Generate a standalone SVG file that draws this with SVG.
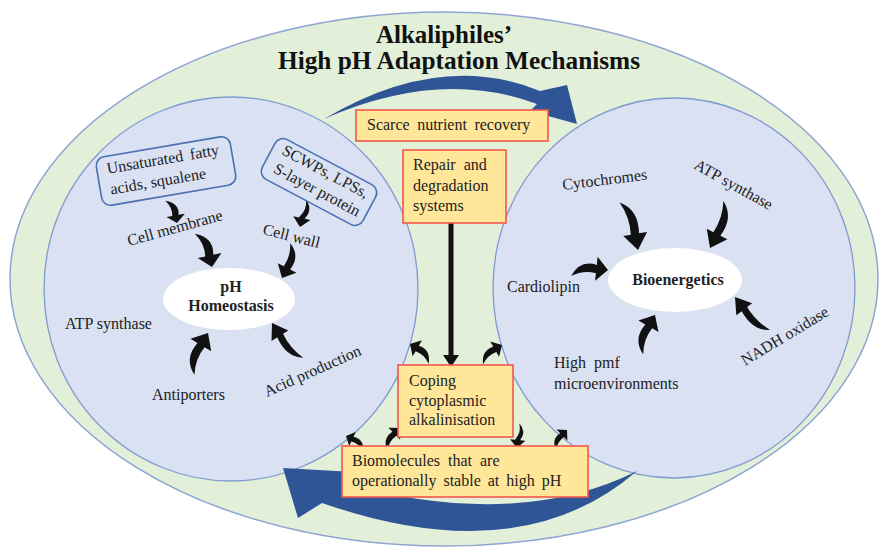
<svg xmlns="http://www.w3.org/2000/svg" xmlns:xlink="http://www.w3.org/1999/xlink" width="883" height="548" viewBox="0 0 883 548">
<style>
.t{font-family:"Liberation Serif","Times New Roman",serif;font-size:16px;fill:#222}
.b{font-weight:bold}
.ttl{font-family:"Liberation Serif","Times New Roman",serif;font-size:25px;font-weight:bold;fill:#111}
.circ{fill:#d9e1f2;stroke:#7f9bcf;stroke-width:1.3}
.outer{fill:#e2efd9;stroke:#8ea5d3;stroke-width:1.5}
.core{fill:#ffffff}
.box{fill:#ffe699;stroke:#f4564a;stroke-width:1.6}
.bbox{fill:none;stroke:#4a6fb5;stroke-width:1.6}
.arr{fill:#111}
.blue{fill:#2f5597}
</style>
<defs>
<path id="ca" d="M0,0 L-13,-11 L-13,-3.5 Q-32,-7 -40,9 Q-27,2 -13,4 L-13,11 Z"/>
<path id="cb" d="M0,0 L-13,-11 L-13,-3.5 Q-28,-12 -40,0 Q-27,-5 -13,4 L-13,11 Z"/>
</defs>
<rect width="883" height="548" fill="#ffffff"/>
<g id="outer"><ellipse class="outer" cx="444" cy="279" rx="434" ry="267"/></g>
<g id="title">
<text class="ttl" x="444" y="43" text-anchor="middle">Alkaliphiles’</text>
<text class="ttl" x="459" y="69" text-anchor="middle" textLength="362" lengthAdjust="spacingAndGlyphs">High pH Adaptation Mechanisms</text>
</g>
<g id="left-circle"><ellipse class="circ" cx="231" cy="289" rx="187" ry="192"/></g>
<g id="right-circle"><ellipse class="circ" cx="674" cy="288" rx="181" ry="190"/></g>
<g id="ph-homeostasis">
<ellipse class="core" cx="229" cy="299" rx="66" ry="31"/>
<text class="t b" x="231" y="292" text-anchor="middle">pH</text>
<text class="t b" x="231" y="311" text-anchor="middle">Homeostasis</text>
</g>
<g id="bioenergetics">
<ellipse class="core" cx="675" cy="280" rx="67" ry="32"/>
<text class="t b" x="678" y="285" text-anchor="middle">Bioenergetics</text>
</g>
<g id="connectors">
<path class="blue" d="M324 119 Q440 50 540 91 L567 85 L577 124 L530 111 L537 104 Q440 68 324 119 Z"/>
<path class="blue" d="M637 471 Q520 572 322 503 L298 518 L283 468 L372 473 L345 484 Q520 530 637 471 Z"/>
<g class="arr">
<use href="#ca" transform="translate(177,223) rotate(80) scale(0.6,0.85)"/>
<use href="#ca" transform="translate(212,267) rotate(78) scale(0.9,1.1)"/>
<use href="#cb" transform="translate(300,227) rotate(102) scale(0.7,0.8)"/>
<use href="#ca" transform="translate(282,278) rotate(117) scale(0.87,0.95)"/>
<use href="#ca" transform="translate(208,333) rotate(-59) scale(1.07,1.1)"/>
<use href="#ca" transform="translate(272,323) rotate(-122) scale(1.15,0.9)"/>
<use href="#ca" transform="translate(410,344) rotate(-150) scale(0.65,-0.85)"/>
<use href="#ca" transform="translate(638,250) rotate(80) scale(1.25,1.1)"/>
<use href="#ca" transform="translate(710,248) rotate(117) scale(1.2,1.05)"/>
<use href="#ca" transform="translate(608,270) rotate(6) scale(0.9,1.1)"/>
<use href="#ca" transform="translate(655,315) rotate(-60) scale(1,1.05)"/>
<use href="#ca" transform="translate(735,297) rotate(-127) scale(1.18,0.9)"/>
<use href="#ca" transform="translate(502,345) rotate(-30) scale(0.65,0.8)"/>
<use href="#ca" transform="translate(400,428) rotate(-45) scale(0.62,0.75)"/>
<use href="#ca" transform="translate(346,436) rotate(-155) scale(0.55,-0.7)"/>
<use href="#cb" transform="translate(517,448) rotate(95) scale(0.62,0.7)"/>
<use href="#ca" transform="translate(567,430) rotate(-45) scale(0.55,0.7)"/>
<rect x="448.5" y="223" width="5" height="134"/>
<polygon points="443,355 459,355 451,367"/>
</g>
</g>
<g id="unsaturated" transform="translate(166,171) rotate(-9.7)">
<rect class="bbox" x="-68" y="-24.5" width="136" height="49" rx="9"/>
<text class="t" x="-58" y="-7" word-spacing="3">Unsaturated fatty</text>
<text class="t" x="-58" y="14">acids, squalene</text>
</g>
<g id="scwps" transform="translate(319,182) rotate(28)">
<rect class="bbox" x="-57" y="-22.5" width="114" height="45" rx="9"/>
<text class="t" x="1" y="-7" text-anchor="middle">SCWPs, LPSs,</text>
<text class="t" x="2" y="13" text-anchor="middle">S-layer protein</text>
</g>
<g id="cell-membrane"><text class="t" transform="translate(129,246) rotate(-15.5)">Cell membrane</text></g>
<g id="cell-wall"><text class="t" transform="translate(262,234) rotate(14)">Cell wall</text></g>
<g id="atp-left"><text class="t" x="65" y="329">ATP synthase</text></g>
<g id="antiporters"><text class="t" x="152" y="400">Antiporters</text></g>
<g id="acid"><text class="t" transform="translate(267,397) rotate(-24)">Acid production</text></g>
<g id="cytochromes"><text class="t" transform="translate(563,190) rotate(-7)">Cytochromes</text></g>
<g id="atp-right"><text class="t" transform="translate(693,168) rotate(29)">ATP synthase</text></g>
<g id="cardiolipin"><text class="t" x="507" y="292">Cardiolipin</text></g>
<g id="high-pmf">
<text class="t" x="554" y="368" word-spacing="4">High pmf</text>
<text class="t" x="554" y="389">microenvironments</text>
</g>
<g id="nadh"><text class="t" transform="translate(745,366) rotate(-31)">NADH oxidase</text></g>
<g id="scarce">
<rect class="box" x="356" y="110" width="192" height="31"/>
<text class="t" x="367" y="130" word-spacing="3.5">Scarce nutrient recovery</text>
</g>
<g id="repair">
<rect class="box" x="403" y="150" width="103" height="73"/>
<text class="t" x="413" y="170" word-spacing="4">Repair and</text>
<text class="t" x="413" y="191">degradation</text>
<text class="t" x="413" y="211">systems</text>
</g>
<g id="coping">
<rect class="box" x="398" y="365" width="115" height="72"/>
<text class="t" x="409" y="386">Coping</text>
<text class="t" x="409" y="406">cytoplasmic</text>
<text class="t" x="409" y="425">alkalinisation</text>
</g>
<g id="biomolecules">
<rect class="box" x="342" y="446" width="246" height="51"/>
<text class="t" x="352" y="466" word-spacing="4">Biomolecules that are</text>
<text class="t" x="352" y="486" word-spacing="3">operationally stable at high pH</text>
</g>
</svg>
